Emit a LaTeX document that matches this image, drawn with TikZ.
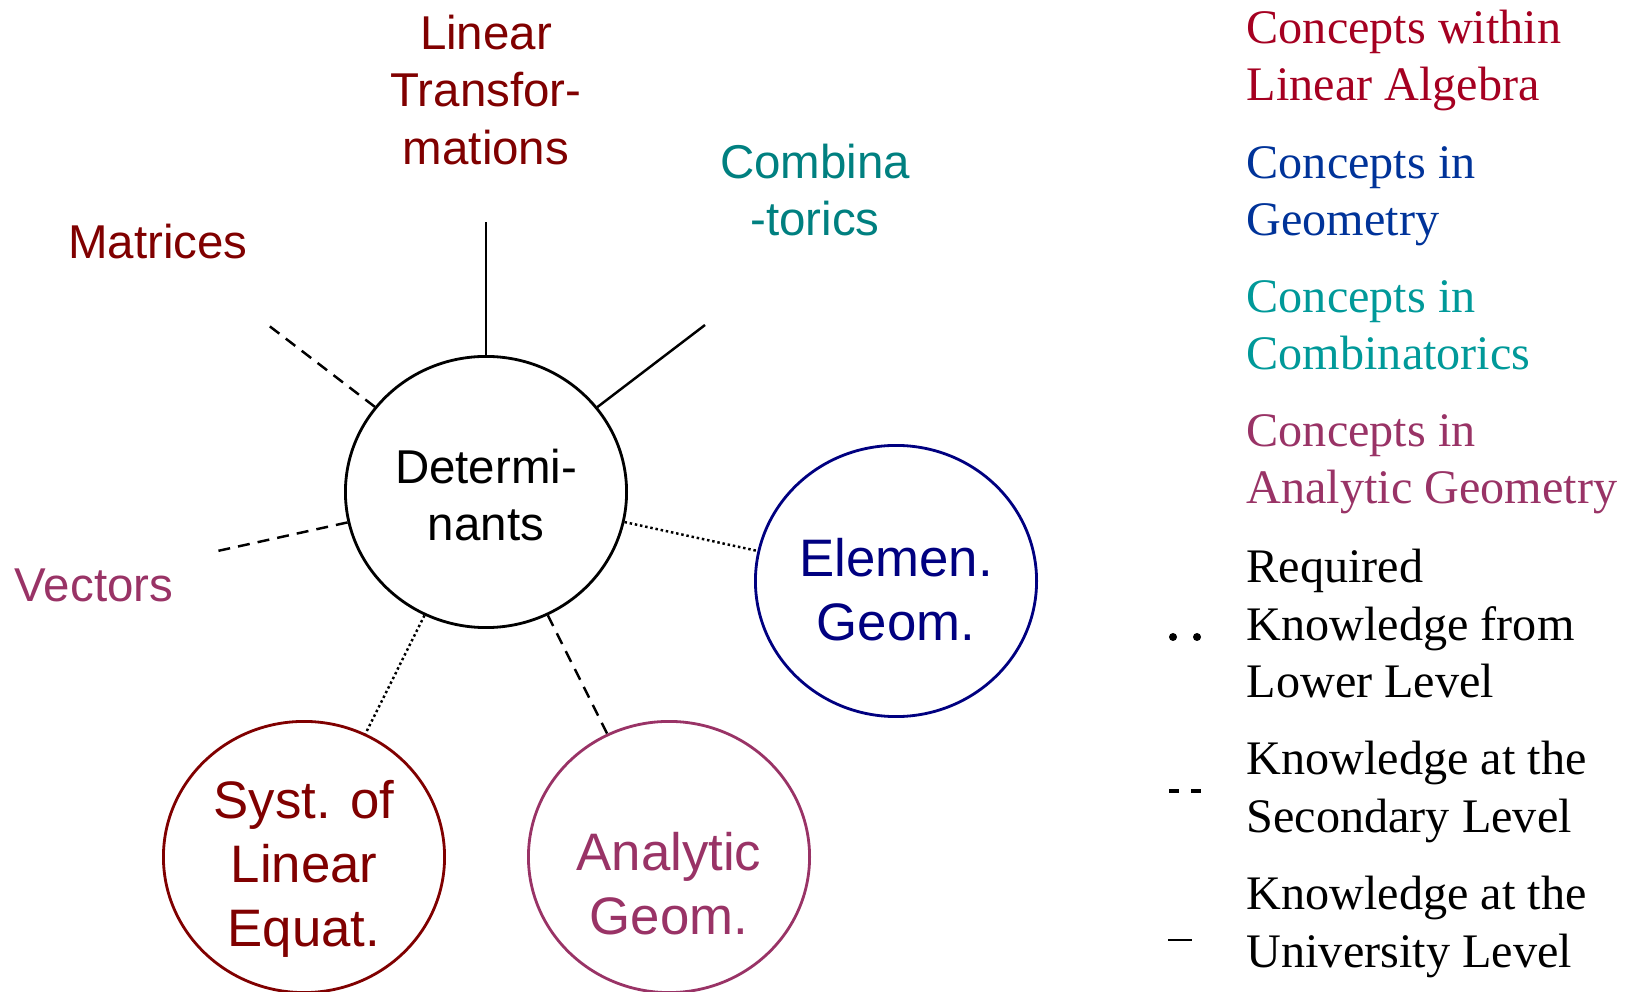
\documentclass[tikz,border=0pt]{standalone}
\usepackage{fontspec}
\setmainfont{Liberation Serif}
\setsansfont{Liberation Sans}
\usetikzlibrary{shapes.geometric}
\definecolor{lared}{HTML}{800000}
\definecolor{legred}{HTML}{A50021}
\definecolor{geoblue}{HTML}{000080}
\definecolor{legblue}{HTML}{003399}
\definecolor{combteal}{HTML}{008080}
\definecolor{legteal}{HTML}{009999}
\definecolor{anamag}{HTML}{993366}

\begin{document}
\begin{tikzpicture}[x=0.01cm,y=-0.01cm,
    topic/.style={ellipse,draw,line width=0.8pt,minimum width=2.81cm,minimum height=2.71cm,inner sep=0pt},
    topictext/.style={align=center,font=\sffamily\fontsize{15}{18.2}\selectfont},
    concept/.style={align=center,font=\sffamily\fontsize{13.5}{16.3}\selectfont},
    legtext/.style={anchor=base west,align=left,inner sep=0pt,font=\fontsize{13.7}{16.4}\selectfont},
    link/.style={line width=0.7pt},
    sec/.style={link,dash pattern=on 3.4pt off 2.3pt},
    req/.style={link,dash pattern=on 0.7pt off 0.8pt}]
  \useasboundingbox (0,0) rectangle (1628,992);
  % centre and the four bubbles round it
  \node[topic] (det) at (486,492) {};
  \node[topic,draw=geoblue] (elem) at (896,581) {};
  \node[topic,draw=lared] (syst) at (304,857) {};
  \node[topic,draw=anamag] (anal) at (669,857) {};
  \node[concept] (det-t) at ([yshift=-0.9pt]det) {Determi-\\nants};
  \node[topictext,text=geoblue] (elem-t) at ([yshift=-2.6pt]elem) {Elemen.\\Geom.};
  \node[topictext,text=lared] (syst-t) at ([yshift=-3.3pt]syst) {Syst. of\\Linear\\Equat.};
  \node[topictext,text=anamag] (anal-t) at ([yshift=-7.7pt]anal) {Analytic\\Geom.};
  % loose concepts with their free ends
  \node[concept,text=lared] (lintr) at (486,90) {Linear\\Transfor-\\mations};
  \node[concept,text=lared] (matr) at (158,242) {Matrices};
  \node[concept,text=combteal] (comb) at (815,190) {Combina\\-torics};
  \node[concept,text=anamag] (vect) at (94,585) {Vectors};
  \coordinate (e-lintr) at (486,222);
  \coordinate (e-matr) at (268,325);
  \coordinate (e-comb) at (705,325);
  \coordinate (e-vect) at (213,552);
  % connectors
  \draw[link] (det) -- (e-lintr);
  \draw[link] (det) -- (e-comb);
  \draw[sec] (det) -- (e-matr);
  \draw[sec] (det) -- (e-vect);
  \draw[sec] (det) -- (anal);
  \draw[req] (det) -- (elem);
  \draw[req] (det) -- (syst);
  % legend (anchored at the last line)
  \node[legtext,text=legred] (lg1) at (1246,101) {Concepts within\\Linear Algebra};
  \node[legtext,text=legblue] (lg2) at (1246,236) {Concepts in\\Geometry};
  \node[legtext,text=legteal] (lg3) at (1246,370) {Concepts in\\Combinatorics};
  \node[legtext,text=anamag] (lg4) at (1246,504) {Concepts in\\Analytic Geometry};
  \node[legtext] (lg5) at (1246,698) {Required\\Knowledge from\\Lower Level};
  \node[legtext] (lg6) at (1246,832) {Knowledge at the\\Secondary Level};
  \node[legtext] (lg7) at (1246,967) {Knowledge at the\\University Level};
  % legend line samples
  \fill (1173,637) circle (4) (1197,637) circle (4);
  \draw[line width=1.1pt] (1169,791) -- (1179,791) (1191,791) -- (1201,791);
  \draw[line width=0.6pt] (1168,940) -- (1192,940);
\end{tikzpicture}
\end{document}
